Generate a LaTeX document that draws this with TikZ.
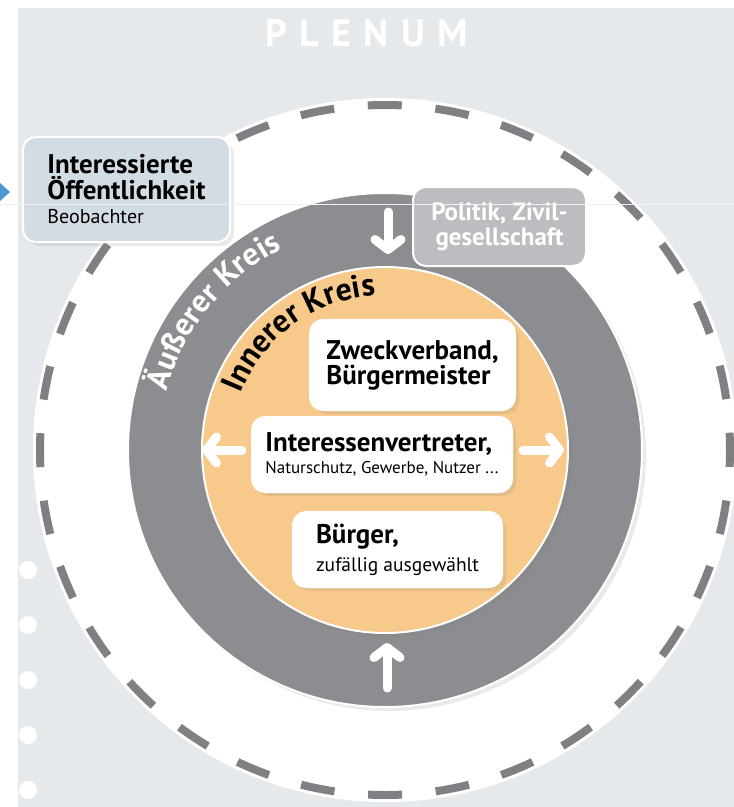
\documentclass[tikz,border=0pt]{standalone}
\usepackage{fontspec}
\setmainfont{PT Sans}
\usepackage{tikz}
\usetikzlibrary{arrows.meta, decorations.text, shadows}
\definecolor{panel}{HTML}{E6E9EC}
\definecolor{ringgray}{HTML}{8C8D90}
\definecolor{dashgray}{HTML}{7F8083}
\definecolor{core}{HTML}{F7C98A}
\definecolor{pubfill}{HTML}{D3DBE3}
\definecolor{polfill}{HTML}{BCBDC0}
\definecolor{pointer}{HTML}{4F94D6}
\definecolor{hairline}{HTML}{EEF1F4}
\newcommand{\titlefont}{\bfseries\fontsize{27}{26}\selectfont}
\newcommand{\ringfont}{\bfseries\fontsize{32}{32}\selectfont}

\begin{document}
\begin{tikzpicture} [x = 1pt, y = -1pt,
    infobox/.style = {rounded corners = 13pt, draw = white, line width = 2pt, inner sep = 0pt, align = left},
    softshadow/.style = {drop shadow = {opacity = 0.16, shadow xshift = 4pt, shadow yshift = -4pt}},
    flowarrow/.style = {draw = white, line width = 9pt, line cap = round, -{Straight Barb[round, length = 10pt, width = 26pt]}},
    ringlabel/.style = {decorate, decoration = {text along path, text align = center, text color = #1}}]
\useasboundingbox (0,0) rectangle (734,807);
\fill [white] (0,0) rectangle (734,807);
\fill [panel] (18,8) rectangle (734,807);
\coordinate (ctr) at (385,450);
% plenum and circles
\fill [white] (ctr) circle [radius = 352];
\draw [dashgray, line width = 8pt, dash pattern = on 34pt off 33.74pt, dash phase = 17pt] (ctr) circle [radius = 345];
\filldraw [fill = ringgray, draw = white, line width = 2pt, softshadow] (ctr) circle [radius = 257];
\filldraw [fill = core, draw = white, line width = 2pt, softshadow] (ctr) circle [radius = 183];
\path [ringlabel = white, decoration = {text = {|\ringfont|Äußerer Kreis}}]
    ([shift = {(-172:226)}] ctr) arc [start angle = -172, end angle = -110, radius = 226];
\path [ringlabel = black, decoration = {text = {|\ringfont|Innerer Kreis}}]
    ([shift = {(-160:155)}] ctr) arc [start angle = -160, end angle = -92, radius = 155];
% arrows
\coordinate (inA) at (388,212);
\coordinate (inB) at (388,254);
\coordinate (upA) at (387,688);
\coordinate (upB) at (387,643);
\coordinate (leftA) at (242,450);
\coordinate (leftB) at (202,450);
\coordinate (rightA) at (523,450);
\coordinate (rightB) at (564,450);
\draw [flowarrow] (inA) -- (inB);
\draw [flowarrow] (upA) -- (upB);
\draw [flowarrow] (leftA) -- (leftB);
\draw [flowarrow] (rightA) -- (rightB);
% boxes
\node (pub) [infobox, fill = pubfill, softshadow, minimum width = 207pt, minimum height = 105pt, font = \titlefont] at (126.5,189.5)
    {Interessierte\\Öffentlichkeit\\[-2pt]{\mdseries\fontsize{20}{20}\selectfont Beobachter}};
\node (pol) [infobox, fill = polfill, text = white, align = center, minimum width = 173pt, minimum height = 79pt,
    font = \bfseries\fontsize{25}{25}\selectfont] at (499.5,226.5) {Politik, Zivil-\\gesellschaft};
\node (zweck) [infobox, fill = white, softshadow, minimum width = 205pt, minimum height = 90pt, font = \titlefont] at (412.5,365)
    {Zweckverband,\\[-1pt]Bürgermeister};
\node (vertreter) [infobox, fill = white, softshadow, minimum width = 260pt, minimum height = 75pt, font = \titlefont] at (382,454.5)
    {Interessenvertreter,\\[-4pt]{\mdseries\fontsize{17}{18}\selectfont Naturschutz, Gewerbe, Nutzer ...}};
\node (buerger) [infobox, fill = white, softshadow, minimum width = 209pt, minimum height = 75pt, font = \titlefont] at (397.5,549.5)
    {Bürger,\\[2pt]{\mdseries\fontsize{19.5}{20}\selectfont zufällig ausgewählt}};
\node (plenum) [anchor = base west, inner sep = 0pt, text = white,
    font = \bfseries\fontsize{38}{38}\selectfont\addfontfeatures{LetterSpace = 33}] at (265,46) {PLENUM};
% side marks
\foreach \y in {570,625,...,790}
    \fill [white] (28,\y) circle [radius = 9];
\fill [pointer] (0,183) -- (10,192) -- (0,201) -- cycle;
\draw [hairline, line width = 0.8pt] (0,204) -- (734,204);
\end{tikzpicture}
\end{document}
